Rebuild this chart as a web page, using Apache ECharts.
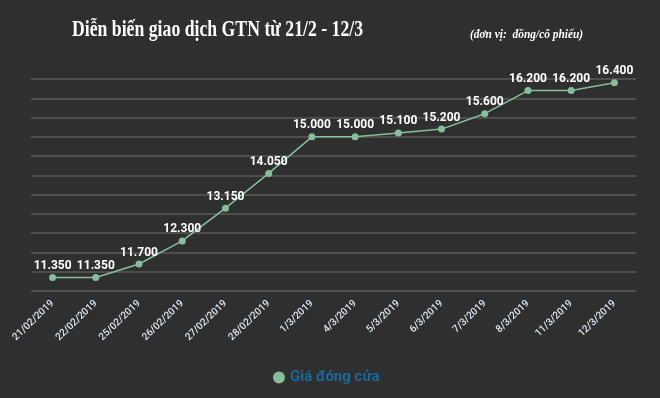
<!DOCTYPE html>
<html>
<head>
<meta charset="utf-8">
<script src="https://cdn.jsdelivr.net/npm/echarts@6/dist/echarts.min.js"></script>
<style>
  html, body { margin: 0; padding: 0; background: #2f2f2f; }
  #chart { width: 660px; height: 398px; }
</style>
</head>
<body>
<div id="chart"></div>
<script>
// ngày giao dịch
var days = ['21/02/2019', '22/02/2019', '25/02/2019', '26/02/2019', '27/02/2019', '28/02/2019',
    '1/3/2019', '4/3/2019', '5/3/2019', '6/3/2019', '7/3/2019', '8/3/2019', '11/3/2019', '12/3/2019'];
// giá đóng cửa (đồng/cổ phiếu)
var closePrice = [11350, 11350, 11700, 12300, 13150, 14050, 15000, 15000, 15100, 15200, 15600, 16200, 16200, 16400];

var fmt = function (v) {
    return String(v).replace(/\B(?=(\d{3})+(?!\d))/g, '.');
};

var myChart = echarts.init(document.getElementById('chart'));

myChart.setOption({
    backgroundColor: '#2f2f2f',
    animation: false,
    // tiêu đề chữ hẹp nên dùng graphic để co ngang
    graphic: [{
        type: 'text',
        left: 72,
        top: 19,
        scaleX: 0.77,
        style: {
            text: 'Diễn biến giao dịch GTN từ 21/2 - 12/3',
            fill: '#ffffff',
            font: 'bold 23px "Liberation Serif"'
        }
    }, {
        type: 'text',
        left: 470,
        top: 29,
        scaleX: 0.95,
        style: {
            text: '(đơn vị:  đồng/cô phiếu)',
            fill: '#ffffff',
            font: 'italic bold 12px "Liberation Serif"'
        }
    }],
    legend: {
        data: ['Giá đóng cửa'],
        left: 268,
        top: 365,
        icon: 'circle',
        itemWidth: 12,
        itemHeight: 12,
        itemGap: 6,
        textStyle: { color: '#186a9a', fontFamily: 'Roboto', fontWeight: 'bold', fontSize: 15 }
    },
    grid: {
        left: 31,
        right: 24,
        top: 79,
        bottom: 107,
        containLabel: false
    },
    xAxis: {
        type: 'category',
        data: days,
        boundaryGap: true,
        axisLine: { show: false },
        axisTick: { show: false },
        axisLabel: {
            interval: 0,
            rotate: 44,
            margin: 11,
            color: '#dce6f2',
            fontFamily: 'Roboto',
            fontWeight: 500,
            fontSize: 10
        }
    },
    yAxis: {
        type: 'value',
        min: 11000,
        max: 16500,
        interval: 500,
        axisLabel: { show: false },
        axisLine: { show: false },
        axisTick: { show: false },
        splitLine: { lineStyle: { color: '#5a5a5a', width: 1.5 } }
    },
    series: [{
        name: 'Giá đóng cửa',
        type: 'line',
        data: closePrice,
        symbol: 'circle',
        symbolSize: 7,
        itemStyle: { color: '#86bd9a' },
        lineStyle: { color: '#86bd9a', width: 1.5 },
        label: {
            show: true,
            position: 'top',
            distance: 2,
            color: '#ffffff',
            fontFamily: 'Roboto',
            fontWeight: 'bold',
            fontSize: 12,
            formatter: function (p) { return fmt(p.value); }
        }
    }]
});
</script>
</body>
</html>
